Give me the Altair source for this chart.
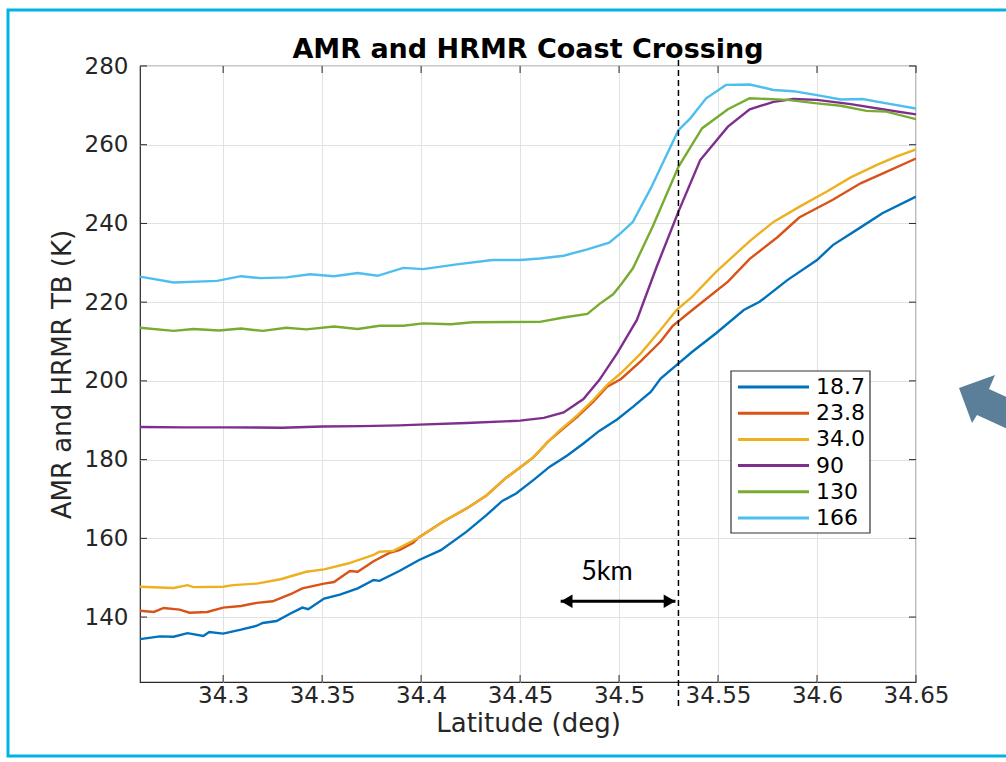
import altair as alt
import pandas as pd

# ---------------- data ----------------
SERIES = ["18.7", "23.8", "34.0", "90", "130", "166"]
COLORS = ["#0072BD", "#D95319", "#EDB120", "#7E2F8E", "#77AC30", "#4DBEEE"]

lat_187 = [34.258, 34.268, 34.275, 34.282, 34.290, 34.293, 34.300, 34.309, 34.317, 34.320,
           34.327, 34.334, 34.340, 34.343, 34.351, 34.359, 34.368, 34.376, 34.379, 34.389,
           34.399, 34.410, 34.423, 34.433, 34.441, 34.448, 34.457, 34.465, 34.474, 34.482,
           34.490, 34.499, 34.507, 34.516, 34.521, 34.529, 34.537, 34.549, 34.563, 34.571,
           34.585, 34.600, 34.608, 34.622, 34.633, 34.650]
tb_187 = [134.4, 135.1, 135.0, 135.9, 135.2, 136.2, 135.8, 136.8, 137.8, 138.5,
          139.0, 140.9, 142.4, 142.0, 144.7, 145.7, 147.3, 149.4, 149.2, 151.7,
          154.5, 157.0, 161.7, 165.9, 169.5, 171.4, 174.9, 178.2, 181.1, 184.1,
          187.3, 190.2, 193.4, 197.2, 200.6, 204.0, 207.4, 212.1, 218.0, 220.1,
          225.6, 230.7, 234.5, 239.0, 242.6, 246.8]

lat_238 = [34.258, 34.265, 34.270, 34.278, 34.283, 34.292, 34.300, 34.309, 34.317, 34.325,
           34.334, 34.340, 34.351, 34.356, 34.364, 34.368, 34.376, 34.384, 34.389, 34.396,
           34.399, 34.411, 34.423, 34.433, 34.443, 34.450, 34.457, 34.464, 34.470, 34.479,
           34.487, 34.494, 34.501, 34.511, 34.521, 34.527, 34.537, 34.555, 34.566, 34.580,
           34.591, 34.608, 34.622, 34.635, 34.650]
tb_238 = [141.6, 141.3, 142.3, 141.9, 141.1, 141.3, 142.4, 142.8, 143.6, 144.0,
          145.8, 147.3, 148.5, 148.9, 151.7, 151.5, 154.2, 156.3, 157.0, 158.9,
          160.3, 164.2, 167.6, 170.9, 175.4, 178.0, 180.7, 184.5, 187.1, 190.9,
          194.7, 198.5, 200.5, 205.0, 210.0, 213.9, 218.0, 225.2, 231.0, 236.5,
          241.5, 246.0, 250.2, 253.1, 256.5]

lat_340 = [34.258, 34.275, 34.282, 34.285, 34.300, 34.305, 34.317, 34.329, 34.342, 34.351,
           34.363, 34.376, 34.379, 34.386, 34.399, 34.411, 34.423, 34.433, 34.443, 34.450,
           34.457, 34.464, 34.470, 34.479, 34.487, 34.494, 34.501, 34.511, 34.521, 34.529,
           34.537, 34.549, 34.566, 34.578, 34.591, 34.605, 34.617, 34.630, 34.640, 34.650]
tb_340 = [147.7, 147.4, 148.1, 147.6, 147.7, 148.1, 148.5, 149.6, 151.5, 152.1,
          153.6, 155.8, 156.6, 156.8, 160.2, 164.2, 167.6, 170.9, 175.4, 178.0,
          180.7, 184.5, 187.4, 191.3, 195.2, 199.0, 202.0, 207.0, 213.0, 218.0,
          221.4, 227.7, 235.5, 240.4, 244.2, 248.1, 251.7, 254.8, 257.0, 258.8]

lat_90 = [34.258, 34.280, 34.300, 34.330, 34.350, 34.370, 34.389, 34.399, 34.423, 34.450,
          34.462, 34.472, 34.482, 34.490, 34.499, 34.509, 34.519, 34.530, 34.541, 34.555,
          34.566, 34.578, 34.588, 34.600, 34.617, 34.633, 34.650]
tb_90 = [188.3, 188.2, 188.2, 188.1, 188.4, 188.5, 188.7, 188.9, 189.3, 189.9,
         190.6, 192.0, 195.4, 200.2, 207.0, 215.5, 229.0, 243.0, 256.1, 264.6,
         269.0, 270.9, 271.6, 271.4, 270.3, 269.0, 267.7]

lat_130 = [34.258, 34.275, 34.285, 34.298, 34.309, 34.320, 34.332, 34.342, 34.356, 34.368,
           34.379, 34.391, 34.401, 34.415, 34.426, 34.460, 34.472, 34.484, 34.490, 34.497,
           34.501, 34.507, 34.517, 34.530, 34.536, 34.542, 34.555, 34.566, 34.585, 34.600,
           34.612, 34.625, 34.635, 34.650]
tb_130 = [213.5, 212.7, 213.2, 212.8, 213.3, 212.7, 213.5, 213.1, 213.8, 213.2,
          214.0, 214.0, 214.6, 214.4, 214.9, 215.0, 216.1, 217.0, 219.5, 222.0,
          224.5, 228.6, 239.2, 254.4, 259.3, 264.2, 269.0, 271.8, 271.4, 270.5,
          269.9, 268.6, 268.4, 266.5]

lat_166 = [34.258, 34.275, 34.297, 34.309, 34.319, 34.332, 34.344, 34.356, 34.368, 34.378,
           34.391, 34.401, 34.418, 34.436, 34.450, 34.460, 34.472, 34.484, 34.495, 34.501,
           34.507, 34.516, 34.524, 34.530, 34.536, 34.544, 34.554, 34.566, 34.578, 34.588,
           34.600, 34.612, 34.623, 34.633, 34.650]
tb_166 = [226.5, 225.0, 225.4, 226.6, 226.1, 226.3, 227.1, 226.6, 227.4, 226.7,
          228.7, 228.4, 229.6, 230.7, 230.7, 231.1, 231.8, 233.4, 235.1, 237.6,
          240.4, 248.9, 257.4, 263.7, 266.7, 271.8, 275.2, 275.3, 273.9, 273.6,
          272.6, 271.5, 271.6, 270.7, 269.2]

X_TICKS = [34.3, 34.35, 34.4, 34.45, 34.5, 34.55, 34.6, 34.65]
Y_TICKS = [140, 160, 180, 200, 220, 240, 260, 280]
X_DOMAIN = [34.258, 34.65]
Y_DOMAIN = [123.5, 280]

COAST_LAT = [34.53]
KM_ARROW_LAT = [34.4705, 34.5285]
KM_ARROW_TB = 144.0
KM_TEXT = "5km"
KM_TEXT_LAT = 34.4939
KM_TEXT_TB = 151.4

TITLE = "AMR and HRMR Coast Crossing"
X_TITLE = "Latitude (deg)"
Y_TITLE = "AMR and HRMR TB (K)"

# ---------------- layout constants (pixels) ----------------
W, H = 776, 616
PAD = {"left": 140, "top": 66, "right": 90, "bottom": 80}
FONT = "DejaVu Sans"
AX = "#262626"

series_data = [lat_187, lat_238, lat_340, lat_90, lat_130, lat_166]
series_tb = [tb_187, tb_238, tb_340, tb_90, tb_130, tb_166]
rows = []
for name, la, tb in zip(SERIES, series_data, series_tb):
    for a, b in zip(la, tb):
        rows.append({"series": name, "lat": a, "tb": b})
df = pd.DataFrame(rows)

xs = alt.Scale(domain=X_DOMAIN, nice=False, zero=False)
ys = alt.Scale(domain=Y_DOMAIN, nice=False, zero=False)
cs = alt.Scale(domain=SERIES, range=COLORS)

lines = alt.Chart(df).mark_line(strokeWidth=2.4, clip=True).encode(
    x=alt.X("lat:Q", scale=xs, axis=alt.Axis(
        values=X_TICKS, format=".4~g", title=X_TITLE, grid=True, gridColor="#e2e2e2",
        gridWidth=1, tickSize=0, domain=False, labelFont=FONT, labelFontSize=23,
        labelColor=AX, labelPadding=2, labelFlush=False, labelOverlap=False,
        titleFont=FONT, titleFontSize=26,
        titleFontWeight="normal", titleColor=AX, titlePadding=3)),
    y=alt.Y("tb:Q", scale=ys, axis=alt.Axis(
        values=Y_TICKS, title=Y_TITLE, grid=True, gridColor="#e2e2e2",
        gridWidth=1, tickSize=0, domain=False, labelFont=FONT, labelFontSize=23,
        labelColor=AX, labelPadding=12, labelFlush=False, labelOverlap=False,
        titleFont=FONT, titleFontSize=26,
        titleFontWeight="normal", titleColor=AX, titlePadding=9)),
    color=alt.Color("series:N", scale=cs, legend=None),
    detail="series:N",
)

# inward ticks on all four sides
xt = pd.DataFrame({"lat": X_TICKS})
yt = pd.DataFrame({"tb": Y_TICKS})
xtick_b = alt.Chart(xt).mark_rule(color=AX, strokeWidth=1).encode(
    x=alt.X("lat:Q", scale=xs), y=alt.value(H), y2=alt.value(H - 7))
xtick_t = alt.Chart(xt).mark_rule(color=AX, strokeWidth=1).encode(
    x=alt.X("lat:Q", scale=xs), y=alt.value(0), y2=alt.value(7))
ytick_l = alt.Chart(yt).mark_rule(color=AX, strokeWidth=1).encode(
    y=alt.Y("tb:Q", scale=ys, axis=None), x=alt.value(0), x2=alt.value(7))
ytick_r = alt.Chart(yt).mark_rule(color=AX, strokeWidth=1).encode(
    y=alt.Y("tb:Q", scale=ys, axis=None), x=alt.value(W), x2=alt.value(W - 7))

# dashed coast line
coast = alt.Chart(pd.DataFrame({"lat": COAST_LAT})).mark_rule(
    color="black", strokeWidth=1.5, strokeDash=[6, 4]).encode(
    x=alt.X("lat:Q", scale=xs), y=alt.value(-6), y2=alt.value(H + 24))

# 5 km arrow
arr_df = pd.DataFrame({"lat": [KM_ARROW_LAT[0]], "lat2": [KM_ARROW_LAT[1]], "tb": [KM_ARROW_TB]})
arr_line = alt.Chart(arr_df).mark_rule(color="black", strokeWidth=3).encode(
    x=alt.X("lat:Q", scale=xs), x2="lat2:Q", y=alt.Y("tb:Q", scale=ys, axis=None))
head_l = alt.Chart(pd.DataFrame({"lat": [KM_ARROW_LAT[0]], "tb": [KM_ARROW_TB]})).mark_point(
    shape="triangle-left", filled=True, color="black", opacity=1, size=180, xOffset=6).encode(
    x=alt.X("lat:Q", scale=xs), y=alt.Y("tb:Q", scale=ys, axis=None))
head_r = alt.Chart(pd.DataFrame({"lat": [KM_ARROW_LAT[1]], "tb": [KM_ARROW_TB]})).mark_point(
    shape="triangle-right", filled=True, color="black", opacity=1, size=180, xOffset=-6).encode(
    x=alt.X("lat:Q", scale=xs), y=alt.Y("tb:Q", scale=ys, axis=None))
km_text = alt.Chart(pd.DataFrame({"lat": [KM_TEXT_LAT], "tb": [KM_TEXT_TB], "t": [KM_TEXT]})).mark_text(
    font="Lato", fontSize=27, color="black", align="center", baseline="middle").encode(
    x=alt.X("lat:Q", scale=xs), y=alt.Y("tb:Q", scale=ys, axis=None), text="t:N")

# title as a text mark above the plot
title_mark = alt.Chart(pd.DataFrame({"t": [TITLE]})).mark_text(
    font=FONT, fontSize=27, fontWeight="bold", color="black", align="center",
    baseline="alphabetic").encode(x=alt.value(W / 2), y=alt.value(-8), text="t:N")

# legend (drawn manually)
leg_df = pd.DataFrame({"series": SERIES})
leg_y = alt.Y("series:N", scale=alt.Scale(type="point", domain=SERIES, range=[321, 452], padding=0), axis=None)
leg_box = alt.Chart(pd.DataFrame({"a": [0]})).mark_rect(
    fill="white", stroke="#333333", strokeWidth=1.2).encode(
    x=alt.value(591), x2=alt.value(730), y=alt.value(305), y2=alt.value(467))
leg_lines = alt.Chart(leg_df).mark_rule(strokeWidth=3).encode(
    x=alt.value(598), x2=alt.value(669), y=leg_y,
    color=alt.Color("series:N", scale=cs, legend=None))
leg_text = alt.Chart(leg_df).mark_text(
    font=FONT, fontSize=22, color="black", align="left", baseline="middle").encode(
    x=alt.value(676), y=leg_y, text="series:N")

# decoration: outer cyan frame and big arrow
frame = alt.Chart(pd.DataFrame({"a": [0]})).mark_rect(
    fillOpacity=0, stroke="#00B3E3", strokeWidth=3).encode(
    x=alt.value(8 - PAD["left"]), x2=alt.value(1030 - PAD["left"]),
    y=alt.value(10 - PAD["top"]), y2=alt.value(756 - PAD["top"]))
ARROW_PATH = "M -0.48 -0.24 L 0.24 -0.5 L 0.12 -0.22 L 1.04 0.2 L 0.8 0.72 L -0.12 0.3 L -0.22 0.46 Z"
big_arrow = alt.Chart(pd.DataFrame({"a": [0]})).mark_point(
    shape=ARROW_PATH, size=10000, filled=True, color="#5B7F99", opacity=1, strokeWidth=0).encode(
    x=alt.value(983 - PAD["left"]), y=alt.value(400 - PAD["top"]))

chart = alt.layer(
    lines, xtick_b, xtick_t, ytick_l, ytick_r, coast,
    arr_line, head_l, head_r, km_text, title_mark,
    leg_box, leg_lines, leg_text, frame, big_arrow,
).resolve_scale(y="independent").properties(
    width=W, height=H,
    padding=PAD,
    autosize=alt.AutoSizeParams(type="none"),
    background="white",
).configure_view(stroke=AX, strokeWidth=1.2)

chart.save("out.html", embed_options={"renderer": "svg", "actions": False})
